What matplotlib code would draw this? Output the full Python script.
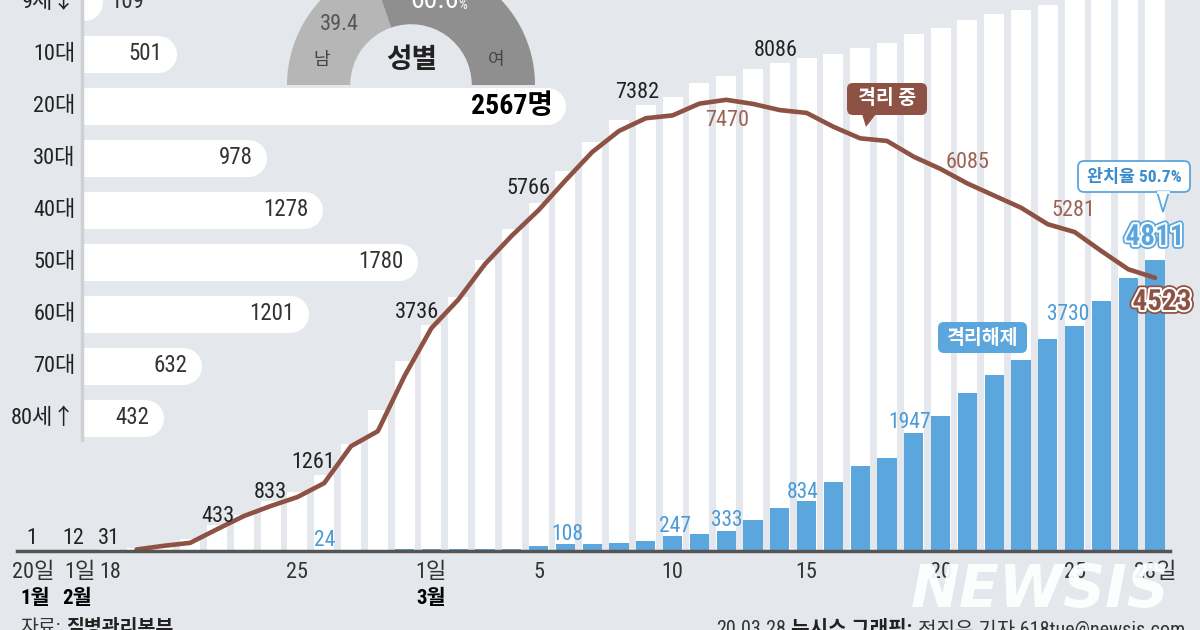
import numpy as np
import pandas as pd
import matplotlib
matplotlib.use("Agg")
import matplotlib.pyplot as plt
import matplotlib.patheffects as pe
from matplotlib import font_manager, transforms
from matplotlib.patches import FancyBboxPatch, Polygon

# 2.18 ~ 3.28 daily numbers (cumulative confirmed, released, in isolation)
days = pd.date_range("2020-02-18", "2020-03-28")
confirmed = [31, 51, 104, 204, 433, 602, 833, 977, 1261, 1766, 2337, 3150,
             3736, 4212, 4812, 5328, 5766, 6284, 6767, 7134, 7382, 7513, 7755, 7869,
             7979, 8086, 8162, 8236, 8320, 8413, 8565, 8652, 8799, 8897, 8961, 9037,
             9137, 9241, 9332, 9478]
released = [12, 12, 16, 16, 16, 18, 18, 22, 24, 24, 24, 27,
            30, 30, 34, 41, 88, 108, 118, 130, 166, 247, 288, 333,
            510, 714, 834, 1137, 1407, 1540, 1947, 2233, 2612, 2909, 3166, 3507,
            3730, 4144, 4528, 4811]
isolating = [np.nan, 25, 85, 135, 360, 578, 744, 893, 1124, 1735, 1983, 2900,
             3689, 4160, 4750, 5220, 5643, 6134, 6605, 6954, 7165, 7212, 7407, 7470,
             7402, 7300, 7253, 7024, 6832, 6789, 6527, 6325, 6085, 5884, 5684, 5410,
             5281, 4966, 4665, 4523]
early_confirmed = [1, 12]          # 1월 20일, 2월 1일

tick_days = [-2.87, -1.11, 0, 7, 12, 16, 21, 26, 31, 36, 39]
tick_labels = ["20일", "1일", "18", "25", "1일", "5", "10", "15", "20", "25", "28일"]
month_days = [-2.8, -1.22, 12]
month_labels = ["1월", "2월", "3월"]

# age groups
ages = ["9세↓", "10대", "20대", "30대", "40대", "50대", "60대", "70대", "80세↑"]
age_counts = [109, 501, 2567, 978, 1278, 1780, 1201, 632, 432]

# gender
genders = ["남", "여"]
gender_pct = [39.4, 60.6]
cure_rate = 50.7

# fonts - the original uses a narrow face, take the narrowest one we have
ttf_names = {f.name for f in font_manager.fontManager.ttflist}
NUM, k = "Liberation Sans", 0.9
for cand in ["Roboto Condensed", "Liberation Sans Narrow", "Open Sans Condensed", "Roboto"]:
    if cand in ttf_names:
        NUM = cand
        k = 0.9 if cand == "Roboto" else 1.0
        break
FAM = [NUM, "Noto Sans CJK KR", "DejaVu Sans"]
plt.rcParams["font.family"] = FAM

BG = "#e4e7eb"
BROWN = "#8d5243"
BROWN_TXT = "#9b6354"
BLUE = "#5ba6dd"
BLUE_TXT = "#4a9ad8"
DARK = "#222222"

fig = plt.figure(figsize=(12, 6.3), dpi=100)
fig.patch.set_facecolor(BG)

# pixel layout of the main chart
X0, DX = 109.8, 26.8      # px of day 0, px per day
Y0, PPU = 551, 0.0604     # baseline px, px per person

ax = fig.add_axes([0, 0, 1, 1])
x = np.arange(len(days))
ax.bar(x, confirmed, width=0.75, color="white", zorder=1)
ax.bar(x, released, width=0.72, color=BLUE, zorder=2)
ax.plot(x, isolating, color=BROWN, lw=3.3, solid_joinstyle="round",
        solid_capstyle="round", zorder=3)
ax.set_xlim(-X0 / DX, (1200 - X0) / DX)
ax.set_ylim(-(630 - Y0) / PPU, Y0 / PPU)
ax.axhline(0, xmin=17 / 1200, xmax=1170 / 1200, color="#555555", lw=2.5, zorder=4)
ax.axis("off")

# age bars (rounded pills)
AX_L, AGE_PPU = 82, 0.1885
ROW0, ROWH = 2, 52
axa = fig.add_axes([AX_L / 1200, 0, (1200 - AX_L) / 1200, 1])
axa.set_xlim(0, (1200 - AX_L) / AGE_PPU)
axa.set_ylim((630 - ROW0) / ROWH, -ROW0 / ROWH)
axa.axis("off")
r = 18.5 / AGE_PPU
rows = np.arange(len(ages))
ends = np.array(age_counts) - r
axa.barh(rows, ends, height=37 / ROWH, color="white", zorder=2)
axa.scatter(ends, rows, s=(37 / 1.389) ** 2, color="white", linewidths=0, zorder=2)

# gender donut
axd = fig.add_axes([287 / 1200, (630 - 209) / 630, 248 / 1200, 248 / 630])
axd.pie(gender_pct + [100], colors=["#b6b6b6", "#8f8f8f", "none"], startangle=180,
        counterclock=False, radius=1, wedgeprops=dict(width=0.51, linewidth=0))
axd.set_xlim(-1, 1)
axd.set_ylim(-1, 1)

# overlay for text, in pixels
ov = fig.add_axes([0, 0, 1, 1])
ov.set_xlim(0, 1200)
ov.set_ylim(630, 0)
ov.axis("off")
ov.plot([AX_L, AX_L], [0, 440], color="#cdd1d6", lw=2.5, zorder=1)

for i, (a, c) in enumerate(zip(ages, age_counts)):
    y = ROW0 + ROWH * i
    ov.text(76, y, a, ha="right", va="center", fontsize=16, color=DARK)
    end = AX_L + c * AGE_PPU
    if c == max(age_counts):
        ov.text(end - 13, y, f"{c}명", ha="right", va="center", fontsize=20 * k,
                fontweight="bold", color="black")
    elif c < 200:
        ov.text(end + 8, y, str(c), ha="left", va="center", fontsize=16.5 * k, color="#333333")
    else:
        ov.text(end - 14, y, str(c), ha="right", va="center", fontsize=16.5 * k, color="#333333")

# donut texts
ov.text(339, 25, f"{gender_pct[0]}", ha="center", va="center", fontsize=16 * k, color="#555555")
ov.text(322, 60, genders[0], ha="center", va="center", fontsize=13, color="#444444")
ov.text(496, 60, genders[1], ha="center", va="center", fontsize=13, color="#444444")
ov.text(412, 60, "성별", ha="center", va="center", fontsize=20, fontweight="bold", color=DARK)
ov.text(434, 1, f"{gender_pct[1]}", ha="center", va="center", fontsize=20 * k, color="white")
ov.text(458, 5, "%", ha="left", va="center", fontsize=10, color="white")

# x tick labels
tr = transforms.blended_transform_factory(ax.transData, ov.transData)
for d, lab in zip(tick_days, tick_labels):
    ov.text(d, 572, lab, transform=tr, ha="center", va="center", fontsize=16 * k, color="#333333")
for d, lab in zip(month_days, month_labels):
    ov.text(d, 598, lab, transform=tr, ha="center", va="center", fontsize=15,
            fontweight="bold", color="black")

# value labels
for v, px, py in zip(early_confirmed + [confirmed[0]], [32, 73, 109], [538, 538, 539]):
    ov.text(px, py, str(v), ha="center", va="center", fontsize=16 * k, color=DARK)
cum_pos = {4: (218, 516), 6: (270, 492), 8: (313, 463), 12: (417, 313),
           16: (528, 188), 20: (637, 92), 25: (776, 50)}
for d, (px, py) in cum_pos.items():
    ov.text(px, py, str(confirmed[d]), ha="center", va="center", fontsize=16 * k, color=DARK)
iso_pos = {23: (727, 120), 32: (968, 162), 36: (1073, 210)}
for d, (px, py) in iso_pos.items():
    ov.text(px, py, str(isolating[d]), ha="center", va="center", fontsize=16 * k,
            color=BROWN_TXT)
rel_pos = {8: (325, 540), 17: (567, 535), 21: (675, 527), 23: (727, 520),
           26: (803, 492), 30: (910, 422), 36: (1068, 315)}
for d, (px, py) in rel_pos.items():
    ov.text(px, py, str(released[d]), ha="center", va="center", fontsize=15.5 * k,
            color=BLUE_TXT)

ov.text(1155, 237, str(released[-1]), ha="center", va="center", fontsize=21 * k,
        fontweight="bold", color=BLUE,
        path_effects=[pe.Stroke(linewidth=5.5, foreground=BLUE),
                      pe.Stroke(linewidth=3, foreground="white"), pe.Normal()])
ov.text(1162, 302, str(isolating[-1]), ha="center", va="center", fontsize=21 * k,
        fontweight="bold", color=BROWN,
        path_effects=[pe.Stroke(linewidth=5.5, foreground=BROWN),
                      pe.Stroke(linewidth=3, foreground="white"), pe.Normal()])

# callouts
ov.add_patch(FancyBboxPatch((847, 83), 80, 32, boxstyle="round,pad=0,rounding_size=6",
                            facecolor=BROWN, edgecolor="none", zorder=3))
ov.add_patch(Polygon([[862, 114], [876, 114], [866, 127]], closed=True,
                     facecolor=BROWN, edgecolor="none", zorder=3))
ov.text(887, 99, "격리 중", ha="center", va="center", fontsize=14, fontweight="bold",
        color="white", zorder=4)

ov.add_patch(FancyBboxPatch((938, 322), 89, 31, boxstyle="round,pad=0,rounding_size=6",
                            facecolor=BLUE, edgecolor="none", zorder=3))
ov.text(982, 338, "격리해제", ha="center", va="center", fontsize=14, fontweight="bold",
        color="white", zorder=4)

ov.add_patch(FancyBboxPatch((1078, 161), 112, 31, boxstyle="round,pad=0,rounding_size=6",
                            facecolor="white", edgecolor=BLUE, lw=1.3, zorder=3))
ov.add_patch(Polygon([[1157, 191.5], [1169, 191.5], [1163, 212]], closed=True,
                     facecolor="white", edgecolor=BLUE, lw=1.3, zorder=3))
ov.plot([1158, 1168], [191.5, 191.5], color="white", lw=2, zorder=3)
ov.text(1134, 177, f"완치율 {cure_rate}%", ha="center", va="center", fontsize=12.5,
        fontweight="bold", color="#3a8ccd", zorder=4)

# watermark and credits
ov.text(1040, 590, "NEWSIS", ha="center", va="center", fontsize=42, fontweight="bold",
        style="italic", family="DejaVu Sans", color="white", alpha=0.92)
t = ov.text(20, 619, "자료:", ha="left", va="top", fontsize=14, color="#333333")
ov.annotate("질병관리본부", xy=(1, 1), xycoords=t, xytext=(4, 0), textcoords="offset points",
            ha="left", va="top", fontsize=14, fontweight="bold", color=DARK)
t = ov.text(716, 620, "20.03.28", ha="left", va="top", fontsize=14.5, color="#333333")
t = ov.annotate("뉴시스 그래픽:", xy=(1, 1), xycoords=t, xytext=(4, 0),
                textcoords="offset points", ha="left", va="top", fontsize=14.5,
                fontweight="bold", color=DARK)
ov.annotate("전진우 기자 618tue@newsis.com", xy=(1, 1), xycoords=t, xytext=(4, 0),
            textcoords="offset points", ha="left", va="top", fontsize=14.5, color="#333333")

fig.savefig("out.png", dpi=100, facecolor=BG)
